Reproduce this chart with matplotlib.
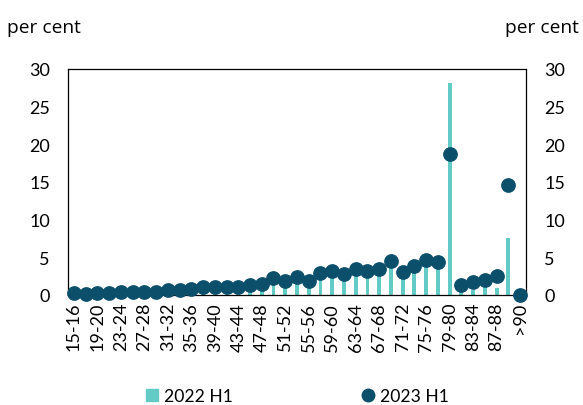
import matplotlib.pyplot as plt
from matplotlib.patches import Patch
from matplotlib.lines import Line2D
import numpy as np

plt.rcParams['font.family'] = ['Lato', 'DejaVu Sans']

# age bands, two-year steps plus the open top band
ages = ["%d-%d" % (a, a + 1) for a in range(15, 90, 2)] + [">90"]

share_2022 = [0.1, 0.1, 0.2, 0.1, 0.2, 0.3, 0.3, 0.3, 0.4, 0.5,
              0.5, 0.6, 0.8, 0.7, 0.9, 1.1, 1.2, 1.7, 1.5, 2.0,
              1.6, 2.4, 2.7, 2.4, 3.0, 2.8, 3.1, 3.9, 2.6, 3.4,
              4.0, 3.9, 28.1, 0.5, 0.7, 1.2, 0.9, 7.6, 0.0]
share_2023 = [0.2, 0.1, 0.3, 0.2, 0.35, 0.4, 0.45, 0.4, 0.6, 0.7,
              0.8, 1.0, 1.1, 1.0, 1.1, 1.35, 1.45, 2.2, 1.85, 2.35,
              1.9, 2.9, 3.2, 2.8, 3.4, 3.2, 3.45, 4.55, 3.0, 3.9,
              4.6, 4.4, 18.7, 1.35, 1.7, 1.95, 2.5, 14.65, 0.0]

bar_col = "#62CBC6"
dot_col = "#0B4F6B"

fig = plt.figure(figsize=(5.83, 4.06), dpi=100)
ax = fig.add_axes([0.1166, 0.271, 0.7856, 0.557])

x = np.arange(len(ages))
ax.bar(x, share_2022, width=0.33, color=bar_col, zorder=2)
ax.plot(x, share_2023, "o", color=dot_col, markersize=9.6, clip_on=False, zorder=3)

ax.set_xlim(-0.5, len(ages) - 0.5)
ax.set_ylim(0, 30)
ax.set_yticks(range(0, 31, 5))
ax.set_xticks(x[::2])
ax.set_xticklabels(ages[::2], rotation=90, fontsize=13)
ax.tick_params(axis="y", length=0, pad=13, labelsize=13, labelright=True)
ax.tick_params(axis="x", length=0, pad=5)
for s in ax.spines.values():
    s.set_linewidth(0.9)
    s.set_color("black")

fig.text(0.012, 0.93, "per cent", fontsize=13.8, va="center", ha="left",
         family="Open Sans")
fig.text(0.993, 0.93, "per cent", fontsize=13.8, va="center", ha="right",
         family="Open Sans")

handles = [Patch(color=bar_col, label="2022 H1"),
           Line2D([], [], marker="o", linestyle="none", color=dot_col,
                  markersize=9, label="2023 H1")]
fig.legend(handles=handles, loc="center", bbox_to_anchor=(0.51, 0.022), ncol=2,
           frameon=False, fontsize=12.6, columnspacing=7.4, handlelength=0.7,
           handletextpad=0.3)

fig.savefig("out.png", dpi=100)
